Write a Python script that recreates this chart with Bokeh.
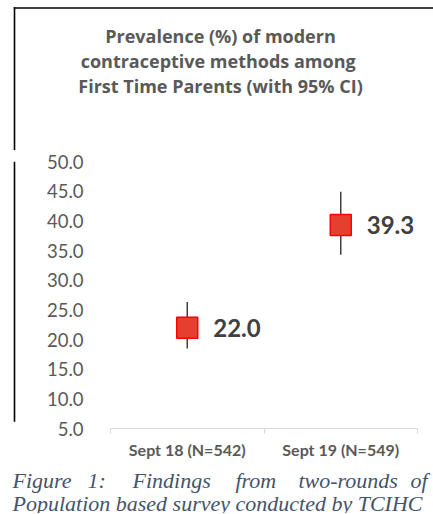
from bokeh.plotting import figure
from bokeh.layouts import column, row
from bokeh.models import (Range1d, LinearAxis, FixedTicker, NumeralTickFormatter, ColumnDataSource)
from bokeh.core.properties import value
from bokeh.embed import file_html
from bokeh.resources import INLINE

# ---- data ----
categories = ["Sept 18 (N=542)", "Sept 19 (N=549)"]
prevalence = [22.0, 39.3]
ci_lower = [18.5, 34.3]
ci_upper = [26.3, 44.9]
y_ticks = [5, 10, 15, 20, 25, 30, 35, 40, 45, 50]
title_lines = ["Prevalence (%) of modern",
               "contraceptive methods  among",
               "First Time Parents (with 95% CI)"]
caption_line1 = ["Figure", "1:", "Findings", "from", "two-rounds", "of"]
caption_line2 = "Population based survey conducted by TCIHC"

FONT = "Lato"
TITLE_FONT = "Open Sans"
GRAY = "#595959"
DARK = "#404040"
W = 433
H_TOP, H_MID, H_CAP = 150, 313, 50
STRIP = 20
LINE_X0, LINE_X1 = 13.2, 14.8  # chart border line (page px)


def canvas_fig(w, h):
    """A figure whose frame is the whole canvas; x = pixels from left, y = pixels from bottom."""
    f = figure(width=w, height=h, x_range=Range1d(0, w), y_range=Range1d(0, h), title=None,
               x_axis_type=None, y_axis_type=None, toolbar_location=None,
               output_backend="svg", min_border=0)
    f.min_border_left = f.min_border_right = f.min_border_top = f.min_border_bottom = 0
    f.outline_line_color = None
    f.background_fill_color = "white"
    f.border_fill_color = "white"
    return f


# ---- title block (page y 0..150) ----
pa = canvas_fig(W, H_TOP)
pa.quad(left=[LINE_X0, LINE_X0], right=[W, LINE_X1], top=[H_TOP - 6.7, H_TOP - 6.7],
        bottom=[H_TOP - 8.3, 0], fill_color="black", line_color=None)
pa.text(x=[220] * len(title_lines), y=[H_TOP - b for b in (35, 60, 85)], text=title_lines,
        text_align="center", text_baseline="alphabetic", text_font=value(TITLE_FONT),
        text_font_size="18px", text_font_style="bold", text_color=GRAY)

# ---- left border strip beside the chart (page y 150..463) ----
ps = canvas_fig(STRIP, H_MID)
ps.quad(left=[LINE_X0], right=[LINE_X1], top=[H_MID], bottom=[H_MID - (455 - H_TOP)],
        fill_color="black", line_color=None)

# ---- chart ----
n = len(categories)
centers = [i + 0.5 for i in range(n)]  # category slots on a numeric axis
edges = list(range(n + 1))
src = ColumnDataSource(dict(x=centers, val=prevalence, lo=ci_lower, hi=ci_upper,
                            lab=["%.1f" % v for v in prevalence]))

FRAME_LEFT, FRAME_RIGHT, FRAME_TOP, FRAME_BOTTOM = 110, 417, 161, 428  # page pixels
p = figure(width=W - STRIP, height=H_MID, title=None,
           x_range=Range1d(0, n), y_range=Range1d(y_ticks[0], y_ticks[-1]),
           x_axis_type=None, y_axis_type=None, output_backend="svg", toolbar_location=None,
           min_border_left=FRAME_LEFT - STRIP, min_border_right=W - FRAME_RIGHT,
           min_border_top=FRAME_TOP - H_TOP,
           min_border_bottom=H_MID - (FRAME_BOTTOM - H_TOP))
p.outline_line_color = None
p.background_fill_color = "white"
p.border_fill_color = "white"

yax = LinearAxis(ticker=FixedTicker(ticks=y_ticks), formatter=NumeralTickFormatter(format="0.0"))
yax.axis_line_color = None
yax.major_tick_line_color = None
yax.minor_tick_line_color = None
yax.major_label_standoff = 21
yax.major_label_text_font = FONT
yax.major_label_text_font_size = "18.5px"
yax.major_label_text_color = GRAY
p.add_layout(yax, "left")

# category axis: labels at slot centres, tick marks (minor) at slot edges
xax = LinearAxis(ticker=FixedTicker(ticks=centers, minor_ticks=edges),
                 major_label_overrides={c: name for c, name in zip(centers, categories)})
xax.axis_line_color = "#D9D9D9"
xax.axis_line_width = 1.2
xax.major_tick_line_color = None
xax.major_tick_out = 5
xax.major_tick_in = 0
xax.minor_tick_line_color = "#D9D9D9"
xax.minor_tick_line_width = 1.2
xax.minor_tick_out = 5
xax.minor_tick_in = 0
xax.major_label_standoff = 6
xax.major_label_text_font = FONT
xax.major_label_text_font_size = "16px"
xax.major_label_text_font_style = "bold"
xax.major_label_text_color = GRAY
p.add_layout(xax, "below")

p.segment(x0="x", y0="lo", x1="x", y1="hi", source=src, line_color=DARK, line_width=1.5)
p.scatter(x="x", y="val", source=src, marker="square", size=21,
          fill_color="#E5402F", line_color="#FF0000", line_width=1.5)
p.text(x="x", y="val", text="lab", source=src, x_offset=26, text_align="left",
       text_baseline="middle", text_font=value(FONT), text_font_size="24px",
       text_font_style="bold", text_color=DARK)

# ---- caption (page y 463..513) ----
pc = canvas_fig(W, H_CAP)
CAP = dict(text_baseline="alphabetic", text_font=value("Liberation Serif"), text_font_size="22px",
           text_font_style="italic", text_color="#44546A")
pc.text(x=[12, 87, 132, 235, 298, 410], y=[H_CAP - 17] * len(caption_line1), text=caption_line1, **CAP)
pc.text(x=[12], y=[H_CAP - 40], text=[caption_line2], **CAP)

layout = column(pa, row(ps, p, spacing=0), pc, spacing=0)
open("out.html", "w").write(file_html(layout, INLINE))
